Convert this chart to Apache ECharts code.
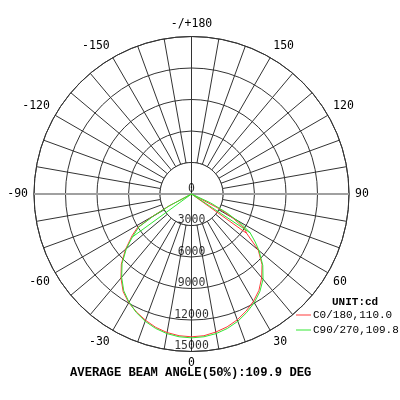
<!DOCTYPE html>
<html><head><meta charset="utf-8">
<script src="https://cdn.jsdelivr.net/npm/echarts@6/dist/echarts.min.js"></script>
<style>html,body{margin:0;padding:0;background:#fff}#c{width:400px;height:400px}</style>
</head><body><div id="c"></div>
<script>
// ---- data ----
const radialTicks = [0, 3000, 6000, 9000, 12000, 15000];
const angleLabels = [-180, -150, -120, -90, -60, -30, 0, 30, 60, 90, 120, 150];
const seriesNames = ['C0/180,110.0', 'C90/270,109.8'];
const seriesColors = ['#ff3a3a', '#33e633'];
const titleText = 'AVERAGE BEAM ANGLE(50%):109.9 DEG';
const unitText = 'UNIT:cd';

// C0/180 (red): angle (deg), intensity (cd)
const c0Angles = [54.5, 64, 62, 60, 57, 54.5, 50, 45, 40, 35, 30, 25, 20, 15, 10, 5, 0,
  -5, -10, -15, -20, -25, -30, -35, -40, -45, -50, -55, -58, -60, -62, -64];
const c0Values = [6450, 0, 3000, 4500, 6000, 6450, 8300, 9500, 10400, 11200, 11800, 12300, 12750, 13100, 13350, 13550, 13600,
  13550, 13400, 13150, 12800, 12400, 11950, 11350, 10450, 9450, 8200, 6900, 6100, 4300, 2500, 0];

// C90/270 (green)
const c90Angles = [-54, -65, -62, -60, -58, -54, -50, -45, -40, -35, -30, -25, -20, -15, -10, -5, 0,
  5, 10, 15, 20, 25, 30, 35, 40, 45, 50, 53, 56.5, 59, 62, 65, 68, 56.5];
const c90Values = [6950, 0, 2300, 4100, 5900, 6950, 8100, 9350, 10350, 11250, 11900, 12450, 12900, 13250, 13500, 13650, 13700,
  13650, 13500, 13250, 12900, 12450, 11950, 11350, 10600, 9600, 8400, 7600, 6700, 5600, 3800, 2000, 0, 6700];

// ---- build ----
const pair = (vals, angs) => vals.map((v, i) => [v, angs[i]]);
const diskData = [];
for (let a = -180; a <= 180; a += 5) diskData.push([radialTicks[1], a]);
const rMax = radialTicks[radialTicks.length - 1];
const gridColor = '#333';
const labelFont = 'DejaVu Sans Mono';
const monoFont = 'Liberation Mono';

const chart = echarts.init(document.getElementById('c'));
chart.setOption({
  animation: false,
  backgroundColor: '#fff',
  title: [
    { text: titleText, left: 70, top: 366, padding: 0,
      textStyle: { fontFamily: monoFont, fontSize: 12.2, fontWeight: 'bold', color: '#000', lineHeight: 14 } },
    { text: unitText, left: 332, top: 296, padding: 0,
      textStyle: { fontFamily: monoFont, fontSize: 11, fontWeight: 'bold', color: '#000', lineHeight: 13 } }
  ],
  legend: {
    data: seriesNames.map((n, i) => ({ name: n, itemStyle: { color: seriesColors[i], borderWidth: 0 } })),
    orient: 'vertical', left: 296, top: 309.5, padding: 0,
    icon: 'rect', itemWidth: 15, itemHeight: 1, itemGap: 4,
    textStyle: { fontFamily: monoFont, fontSize: 11, color: '#000', padding: [0, 0, 0, -3] }
  },
  polar: { center: [191.5, 194], radius: 157.5 },
  angleAxis: {
    type: 'value', min: -180, max: 180, interval: 10, startAngle: 90, clockwise: false,
    axisLine: { lineStyle: { color: gridColor, width: 1 } },
    axisTick: { show: false },
    splitLine: { lineStyle: { color: gridColor, width: 1 } },
    axisLabel: {
      margin: 6, fontFamily: labelFont, fontSize: 11.5, color: '#000',
      formatter: v => (v === -180 ? '-/+180' : (angleLabels.indexOf(v) >= 0 ? String(v) : ''))
    }
  },
  radiusAxis: {
    type: 'value', min: 0, max: rMax, interval: 3000,
    axisLine: { show: false }, axisTick: { show: false }, axisLabel: { show: false },
    splitLine: { lineStyle: { color: gridColor, width: 1 } }
  },
  series: [
    { type: 'line', coordinateSystem: 'polar', data: diskData, symbol: 'none', silent: true,
      lineStyle: { color: gridColor, width: 1 }, areaStyle: { color: '#fff', opacity: 1 } },
    { type: 'line', coordinateSystem: 'polar', data: [[rMax, -180], [rMax, 0]], symbol: 'none', silent: true,
      lineStyle: { color: gridColor, width: 1 } },
    { type: 'line', coordinateSystem: 'polar', data: [[rMax, -90], [rMax, 90]], symbol: 'none', silent: true,
      lineStyle: { color: '#a0a0a0', width: 2 } },
    { name: seriesNames[0], type: 'line', coordinateSystem: 'polar', data: pair(c0Values, c0Angles),
      symbol: 'none', color: seriesColors[0], lineStyle: { color: seriesColors[0], width: 1 } },
    { name: seriesNames[1], type: 'line', coordinateSystem: 'polar', data: pair(c90Values, c90Angles),
      symbol: 'none', color: seriesColors[1], lineStyle: { color: seriesColors[1], width: 1 } },
    { type: 'scatter', coordinateSystem: 'polar', data: radialTicks.map(r => [r, 0]), symbolSize: 1,
      itemStyle: { color: 'rgba(0,0,0,0)' }, silent: true, z: 5,
      label: { show: true, position: 'inside', offset: [0, -5], formatter: p => String(p.value[0]),
        fontFamily: labelFont, fontSize: 11.5, color: '#000' } }
  ]
});
</script></body></html>
